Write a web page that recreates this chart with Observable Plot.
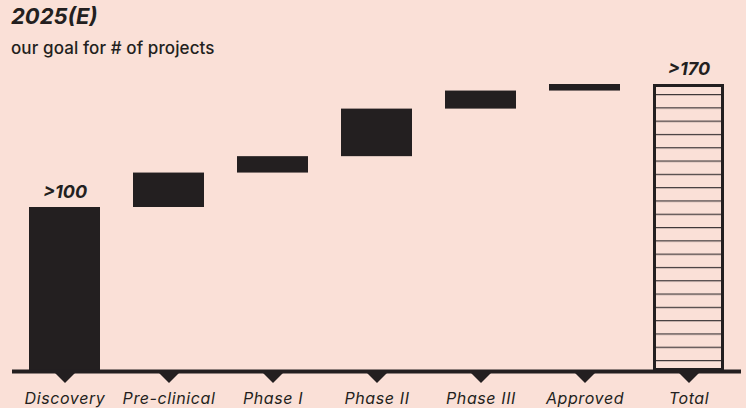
<!DOCTYPE html>
<html>
<head>
<meta charset="utf-8">
<script src="https://cdn.jsdelivr.net/npm/d3@7"></script>
<script src="https://cdn.jsdelivr.net/npm/@observablehq/plot@0.6"></script>
<style>
  html, body { margin: 0; padding: 0; background: #fae0d7; }
  body { width: 746px; height: 408px; position: relative; overflow: hidden; font-family: Inter, Lato, sans-serif; color: #231f20; }
  #head { position: absolute; left: 11px; top: 0; }
  #head h1 { margin: 0; position: absolute; top: 3px; left: 0; font-size: 22px; font-weight: 700; font-style: italic; white-space: nowrap; }
  #head p { margin: 0; position: absolute; top: 38px; left: 0; font-size: 17px; font-weight: 500; letter-spacing: 0.1px; white-space: nowrap; }
  #chart { position: absolute; left: 0; top: 0; }
  .stage-labels text { letter-spacing: 0.6px; }
</style>
</head>
<body>
<div id="chart"></div>
<div id="head">
  <h1>2025(E)</h1>
  <p>our goal for # of projects</p>
</div>
<script>
// Pipeline stages and how many projects each one adds
const stages = ["Discovery", "Pre-clinical", "Phase I", "Phase II", "Phase III", "Approved", "Total"];
const increments = [100, 21, 10, 29, 11, 4];
const totalValue = 175;
const valueLabels = [">100", "", "", "", "", "", ">170"];

const ink = "#231f20";

// Floating waterfall steps: each one starts where the previous ended
let running = 0;
const steps = increments.map((v, i) => {
  const row = {stage: stages[i], y1: running, y2: running + v, label: valueLabels[i]};
  running += v;
  return row;
});
const totalRow = {stage: stages[6], y1: 0, y2: totalValue, label: valueLabels[6]};
const labelled = [...steps, totalRow].filter(d => d.label);

// Downward wedge marking each category under the baseline
const wedge = {
  draw(ctx, size) {
    const w = Math.sqrt(size / Math.PI) * 2;
    ctx.moveTo(-w / 2, 0);
    ctx.lineTo(w / 2, 0);
    ctx.lineTo(0, w / 2);
    ctx.closePath();
  }
};

const chart = Plot.plot({
  width: 746,
  height: 408,
  marginLeft: 12,
  marginRight: 5,
  marginTop: 84,
  marginBottom: 37,
  style: {background: "transparent", fontFamily: "Inter, Lato, sans-serif", color: ink},
  x: {domain: stages, paddingInner: 0.32, paddingOuter: 0.1425, axis: null},
  y: {domain: [0, totalValue], axis: null},
  marks: [
    Plot.barY(steps, {x: "stage", y1: "y1", y2: "y2", fill: ink}),
    Plot.barY([totalRow], {x: "stage", y1: "y1", y2: "y2", fill: "url(#hatch)", stroke: ink, strokeWidth: 3, inset: 1.5}),
    Plot.text(labelled, {x: "stage", y: "y2", text: "label", dy: -10, lineAnchor: "bottom", fontSize: 18, fontWeight: 700, fontStyle: "italic", fill: ink}),
    Plot.ruleY([0], {stroke: ink, strokeWidth: 4}),
    Plot.dot(stages, {x: d => d, y: () => 0, symbol: wedge, r: 10, fill: ink, stroke: null, dy: 1.5}),
    Plot.axisX({tickSize: 0, tickPadding: 21, fontSize: 16, fontWeight: 400, fontStyle: "italic", fill: ink, label: null, className: "stage-labels"})
  ]
});

// Horizontal line hatching used inside the total bar
const defs = d3.select(chart).insert("defs", ":first-child");
const pat = defs.append("pattern")
  .attr("id", "hatch")
  .attr("patternUnits", "userSpaceOnUse")
  .attr("width", 20)
  .attr("height", 13.3)
  .attr("patternTransform", "translate(0,94)");
pat.append("line")
  .attr("x1", 0).attr("x2", 20)
  .attr("y1", 0.6).attr("y2", 0.6)
  .attr("stroke", "#3b3536")
  .attr("stroke-width", 1.2);

document.getElementById("chart").appendChild(chart);
</script>
</body>
</html>
